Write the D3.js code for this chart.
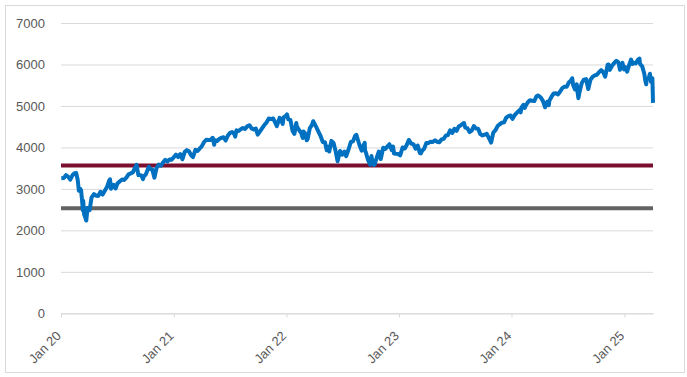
<!DOCTYPE html>
<html>
<head>
<meta charset="utf-8">
<script src="https://cdn.jsdelivr.net/npm/d3@7"></script>
<style>
  body { margin: 0; background: #fff; }
  svg { display: block; font-family: "Liberation Sans", Arial, sans-serif; }
</style>
</head>
<body>
<div id="chart"></div>
<script>
// S&P 500 closes, roughly weekly plus a few turning points
const dates = [
  // 2020
  "2020-01-02","2020-01-10","2020-01-17","2020-01-24","2020-01-31","2020-02-07","2020-02-14","2020-02-19","2020-02-24","2020-02-28",
  "2020-03-03","2020-03-06","2020-03-09","2020-03-12","2020-03-13","2020-03-16","2020-03-20","2020-03-23","2020-03-27","2020-04-03",
  "2020-04-09","2020-04-17","2020-04-24","2020-05-01","2020-05-08","2020-05-15","2020-05-22","2020-05-29","2020-06-05","2020-06-08",
  "2020-06-11","2020-06-19","2020-06-26","2020-07-02","2020-07-10","2020-07-17","2020-07-24","2020-07-31","2020-08-07","2020-08-14",
  "2020-08-21","2020-08-28","2020-09-02","2020-09-08","2020-09-11","2020-09-18","2020-09-23","2020-09-25","2020-10-02","2020-10-09",
  "2020-10-12","2020-10-16","2020-10-23","2020-10-30","2020-11-06","2020-11-13","2020-11-20","2020-11-27","2020-12-04","2020-12-11",
  "2020-12-18","2020-12-24","2020-12-31",
  // 2021
  "2021-01-08","2021-01-15","2021-01-22","2021-01-29","2021-02-05","2021-02-12","2021-02-19","2021-02-26","2021-03-04","2021-03-12",
  "2021-03-19","2021-03-26","2021-04-01","2021-04-09","2021-04-16","2021-04-23","2021-04-30","2021-05-07","2021-05-12","2021-05-14",
  "2021-05-21","2021-05-28","2021-06-04","2021-06-11","2021-06-18","2021-06-25","2021-07-02","2021-07-09","2021-07-16","2021-07-19",
  "2021-07-23","2021-07-30","2021-08-06","2021-08-13","2021-08-20","2021-08-27","2021-09-03","2021-09-10","2021-09-17","2021-09-24",
  "2021-09-30","2021-10-08","2021-10-15","2021-10-22","2021-10-29","2021-11-05","2021-11-12","2021-11-19","2021-11-26","2021-12-01",
  "2021-12-10","2021-12-17","2021-12-20","2021-12-23","2021-12-31",
  // 2022
  "2022-01-03","2022-01-07","2022-01-14","2022-01-21","2022-01-27","2022-02-02","2022-02-04","2022-02-11","2022-02-18","2022-02-23",
  "2022-02-25","2022-03-04","2022-03-08","2022-03-11","2022-03-18","2022-03-25","2022-03-29","2022-04-08","2022-04-14","2022-04-22",
  "2022-04-29","2022-05-06","2022-05-12","2022-05-13","2022-05-20","2022-05-27","2022-06-03","2022-06-10","2022-06-16","2022-06-24",
  "2022-07-01","2022-07-08","2022-07-14","2022-07-22","2022-07-29","2022-08-05","2022-08-12","2022-08-16","2022-08-19","2022-08-26",
  "2022-09-02","2022-09-09","2022-09-12","2022-09-13","2022-09-16","2022-09-23","2022-09-30","2022-10-04","2022-10-07","2022-10-12",
  "2022-10-14","2022-10-21","2022-10-28","2022-11-03","2022-11-11","2022-11-18","2022-11-25","2022-12-01","2022-12-09","2022-12-13",
  "2022-12-16","2022-12-23","2022-12-30",
  // 2023
  "2023-01-05","2023-01-13","2023-01-20","2023-01-27","2023-02-02","2023-02-10","2023-02-17","2023-02-24","2023-03-03","2023-03-10",
  "2023-03-13","2023-03-17","2023-03-24","2023-03-31","2023-04-06","2023-04-14","2023-04-21","2023-04-28","2023-05-05","2023-05-12",
  "2023-05-19","2023-05-26","2023-06-02","2023-06-09","2023-06-16","2023-06-23","2023-06-30","2023-07-07","2023-07-14","2023-07-21",
  "2023-07-31","2023-08-04","2023-08-11","2023-08-18","2023-08-25","2023-09-01","2023-09-08","2023-09-15","2023-09-22","2023-09-29",
  "2023-10-06","2023-10-13","2023-10-20","2023-10-27","2023-11-03","2023-11-10","2023-11-17","2023-11-24","2023-12-01","2023-12-08",
  "2023-12-15","2023-12-22","2023-12-29",
  // 2024
  "2024-01-04","2024-01-12","2024-01-19","2024-01-26","2024-01-31","2024-02-02","2024-02-09","2024-02-13","2024-02-16","2024-02-23",
  "2024-03-01","2024-03-08","2024-03-15","2024-03-22","2024-03-28","2024-04-05","2024-04-12","2024-04-19","2024-04-26","2024-05-01",
  "2024-05-03","2024-05-10","2024-05-17","2024-05-24","2024-05-31","2024-06-07","2024-06-14","2024-06-21","2024-06-28","2024-07-05",
  "2024-07-12","2024-07-16","2024-07-19","2024-07-25","2024-07-31","2024-08-02","2024-08-05","2024-08-09","2024-08-16","2024-08-23",
  "2024-08-30","2024-09-06","2024-09-13","2024-09-20","2024-09-27","2024-10-04","2024-10-11","2024-10-18","2024-10-25","2024-10-31",
  "2024-11-08","2024-11-11","2024-11-15","2024-11-22","2024-11-29","2024-12-06","2024-12-13","2024-12-18","2024-12-20","2024-12-26",
  "2024-12-31",
  // 2025
  "2025-01-03","2025-01-10","2025-01-17","2025-01-23","2025-01-27","2025-01-31","2025-02-07","2025-02-14","2025-02-19","2025-02-21",
  "2025-02-28","2025-03-07","2025-03-10","2025-03-13","2025-03-14","2025-03-21","2025-03-25","2025-03-28","2025-03-31","2025-04-02",
  "2025-04-03","2025-04-04"
];

const closes = [
  // 2020
  3258,3265,3330,3295,3225,3328,3380,3386,3226,2954,
  3003,2972,2747,2481,2711,2386,2305,2237,2541,2489,
  2790,2875,2837,2831,2930,2864,2955,3044,3194,3232,
  3002,3098,3009,3130,3185,3225,3216,3271,3351,3373,
  3397,3508,3580,3332,3341,3319,3237,3298,3348,3477,
  3535,3484,3465,3270,3509,3585,3558,3638,3699,3663,
  3709,3703,3756,
  // 2021
  3825,3768,3841,3714,3887,3934,3907,3811,3768,3943,
  3913,3975,4020,4129,4185,4180,4181,4233,4063,4174,
  4156,4204,4230,4247,4166,4281,4352,4370,4327,4258,
  4412,4395,4437,4468,4442,4509,4535,4459,4433,4455,
  4308,4391,4471,4545,4605,4697,4683,4698,4595,4513,
  4712,4620,4568,4726,4766,
  // 2022
  4797,4677,4663,4398,4327,4589,4501,4419,4349,4226,
  4385,4329,4171,4204,4463,4543,4632,4488,4393,4272,
  4132,4123,3930,4024,3901,4158,4109,3901,3667,3912,
  3825,3899,3790,3962,4130,4145,4280,4305,4228,4058,
  3924,4067,4110,3933,3873,3693,3586,3791,3640,3577,
  3583,3753,3901,3720,3993,3965,4026,4077,3934,4020,
  3852,3845,3840,
  // 2023
  3808,3999,3973,4071,4180,4090,4079,3970,4046,3862,
  3855,3917,3971,4109,4105,4138,4133,4169,4136,4124,
  4192,4205,4282,4299,4410,4348,4450,4399,4505,4536,
  4589,4478,4464,4370,4406,4516,4457,4450,4320,4288,
  4309,4327,4224,4117,4358,4415,4514,4559,4595,4604,
  4719,4755,4770,
  // 2024
  4688,4784,4840,4891,4846,4959,5027,4953,5006,5089,
  5137,5124,5117,5234,5254,5204,5123,4967,5100,5018,
  5128,5223,5303,5305,5278,5347,5431,5465,5460,5567,
  5615,5667,5505,5399,5522,5346,5186,5344,5554,5635,
  5648,5408,5626,5703,5738,5751,5815,5865,5808,5705,
  5995,6001,5870,5969,6032,6090,6051,5872,5931,6037,
  5882,
  // 2025
  5942,5827,5997,6119,6012,6041,6026,6115,6144,6013,
  5955,5770,5615,5522,5639,5668,5777,5581,5612,5671,
  5397,5074
];

// reference levels
const levelNames = ["upper", "lower"];
const levelValues = [3565, 2535];
const levelColors = ["#7a0f30", "#636363"];

const yTicks = [0, 1000, 2000, 3000, 4000, 5000, 6000, 7000];
const xTickDates = ["2020-01-01","2021-01-01","2022-01-01","2023-01-01","2024-01-01","2025-01-01"];

const W = 687, H = 377;
const plot = { left: 61, right: 653, top: 23, bottom: 313.3 };

const parse = d3.timeParse("%Y-%m-%d");
const series = dates.map((d, i) => ({ date: parse(d), value: closes[i] }));

const svg = d3.select("#chart").append("svg")
  .attr("width", W)
  .attr("height", H);

// chart area border
svg.append("rect")
  .attr("x", 5.5).attr("y", 5.5)
  .attr("width", 679).attr("height", 367)
  .attr("fill", "#fff")
  .attr("stroke", "#d9d9d9")
  .attr("stroke-width", 1);

const x = d3.scaleTime()
  .domain([parse("2020-01-01"), parse("2025-04-04")])
  .range([plot.left, plot.right]);

const y = d3.scaleLinear()
  .domain([0, 7000])
  .range([plot.bottom, plot.top]);

// gridlines + y labels
const yAxis = svg.append("g")
  .attr("transform", `translate(${plot.left},0)`)
  .call(d3.axisLeft(y).tickValues(yTicks).tickFormat(d3.format("d"))
    .tickSize(-(plot.right - plot.left)).tickPadding(16));
yAxis.select(".domain").remove();
yAxis.selectAll("line").attr("stroke", "#d9d9d9");
yAxis.selectAll("text")
  .attr("fill", "#595959")
  .style("font-size", "13px");

// x axis
const xAxis = svg.append("g")
  .attr("transform", `translate(0,${plot.bottom})`)
  .call(d3.axisBottom(x).tickValues(xTickDates.map(parse))
    .tickFormat(d3.timeFormat("%b %y")).tickSize(4).tickSizeOuter(0));
xAxis.select(".domain").attr("stroke", "#d9d9d9");
xAxis.selectAll("line").attr("stroke", "#d9d9d9");
xAxis.selectAll("text")
  .attr("fill", "#595959")
  .style("font-size", "13px")
  .style("text-anchor", "end")
  .attr("dx", "-1.25em")
  .attr("dy", "0.75em")
  .attr("transform", "rotate(-45)");

// horizontal levels
svg.selectAll(".level")
  .data(levelValues)
  .enter()
  .append("line")
  .attr("class", "level")
  .attr("x1", plot.left)
  .attr("x2", plot.right)
  .attr("y1", d => y(d))
  .attr("y2", d => y(d))
  .attr("stroke", (d, i) => levelColors[i])
  .attr("stroke-width", 4);

// index line
const line = d3.line()
  .x(d => x(d.date))
  .y(d => y(d.value));

svg.append("path")
  .datum(series)
  .attr("fill", "none")
  .attr("stroke", "#0070c0")
  .attr("stroke-width", 4)
  .attr("stroke-linejoin", "round")
  .attr("d", line);
</script>
</body>
</html>
